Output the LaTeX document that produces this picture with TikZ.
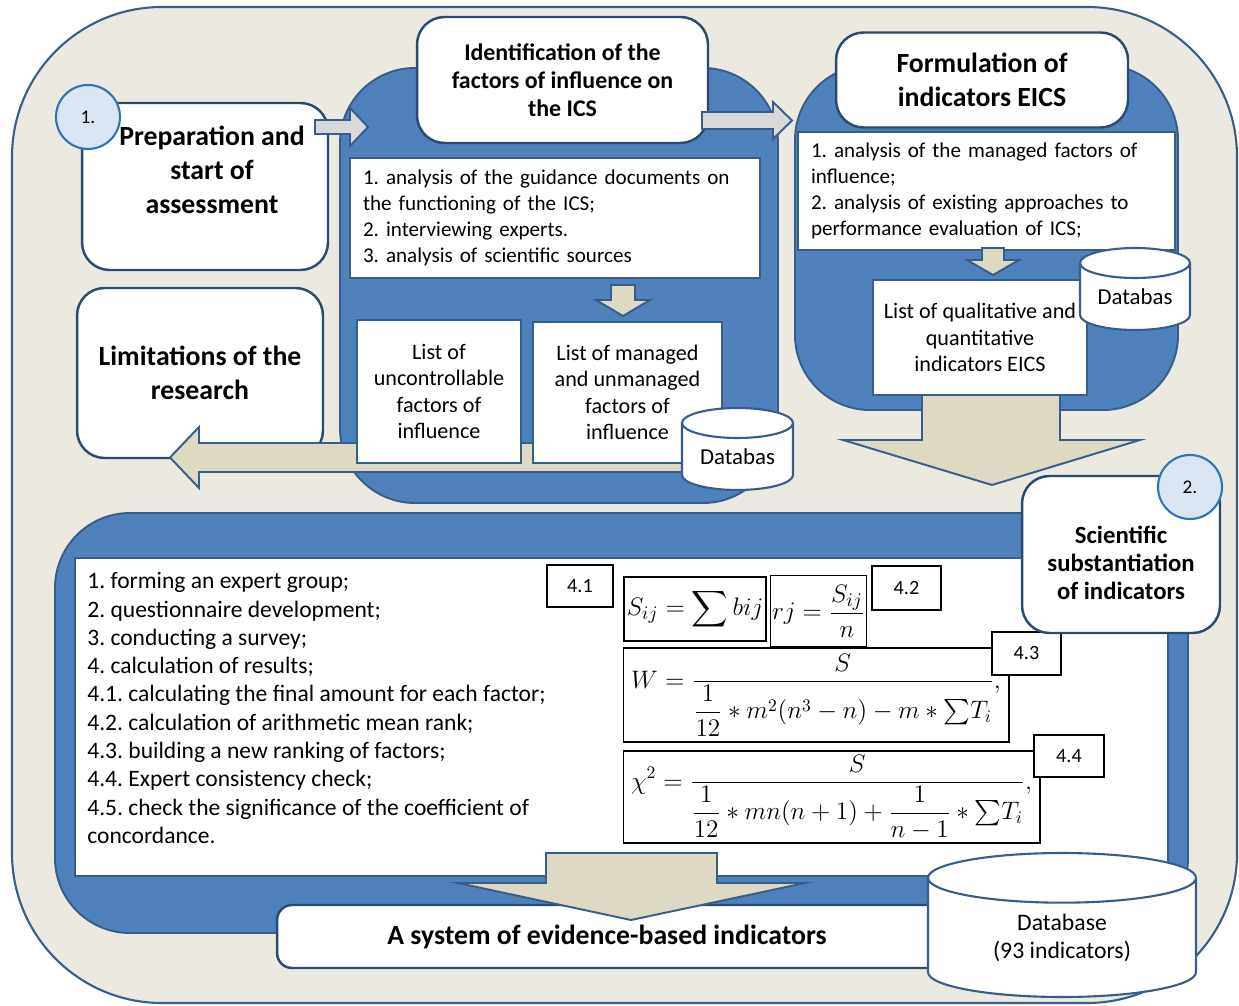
\documentclass[tikz,border=0pt]{standalone}
\usepackage{fontspec}
\usepackage{amsmath}
\setmainfont{Carlito}
\frenchspacing
\usetikzlibrary{shapes.geometric}

\definecolor{bgbeige}{HTML}{ECEAE0}
\definecolor{panblue}{HTML}{4F81BD}
\definecolor{panedge}{HTML}{385D8A}
\definecolor{boxedge}{HTML}{2B4A6F}
\definecolor{arrbeige}{HTML}{DDD9C3}
\definecolor{arrgray}{HTML}{D9D9D9}
\definecolor{circfill}{HTML}{DCE6F2}
\definecolor{circedge}{HTML}{2E75B6}

\tikzset{
  bgframe/.style={fill=bgbeige, draw=panedge, line width=1.2pt, rounded corners=3cm},
  panel/.style={fill=panblue, draw=panedge, line width=1.1pt, rounded corners=1.5cm},
  titlebox/.style={draw=boxedge, fill=white, line width=1.4pt, rounded corners=0.55cm, inner sep=0pt},
  titletext/.style={align=center, inner sep=0pt, font=\bfseries\fontsize{15.8}{19.3}\selectfont},
  listbox/.style={draw=panedge, fill=white, line width=1.2pt, inner sep=0pt},
  listtext/.style={align=left, font=\fontsize{12}{14.7}\selectfont},
  smalltext/.style={align=center, font=\fontsize{12.6}{15}\selectfont},
  dbcyl/.style={cylinder, shape border rotate=90, aspect=0.4, draw=panedge, fill=white,
    line width=1.2pt, inner sep=0pt, anchor=shape center, font=\fontsize{13}{15}\selectfont},
  numcirc/.style={circle, fill=circfill, draw=circedge, line width=1.2pt, minimum size=1.28cm,
    inner sep=0pt, font=\fontsize{11}{13}\selectfont},
  formbox/.style={draw=black, line width=0.6pt, fill=white, inner sep=1pt},
  numbox/.style={draw=black, line width=1.4pt, fill=white, inner sep=0pt, font=\fontsize{11.5}{13}\selectfont},
  beigearrow/.style={fill=arrbeige, draw=panedge, line width=1.1pt},
  grayarrow/.style={fill=arrgray, draw=panedge, line width=1.1pt}
}

\begin{document}
\begin{tikzpicture}[x=0.02cm,y=-0.02cm]
\useasboundingbox (0,0) rectangle (1239,1006);

\draw[bgframe] (12,7) rectangle (1237,1003);

% blue panels
\draw[panel] (340,68) rectangle (778,503);
\draw[panel] (795,65) rectangle (1178,410);
\draw[panel] (55,513) rectangle (1188,933);

% stage 1
\node[titlebox, minimum width=4.92cm, minimum height=3.34cm] (prep) at (205,186.5) {};
\node[numcirc] (c1) at (88,117) {1.};
\node[titletext] (preptxt) at (212,170) {Preparation and\\start of\\assessment};
\node[titlebox, minimum width=4.92cm, minimum height=3.4cm, titletext] (limit) at (200,373)
  {Limitations of the\\research};

\node[titlebox, minimum width=5.82cm, minimum height=2.52cm, titletext,
  font=\bfseries\fontsize{13.6}{15.9}\selectfont] (ident) at (562.5,80)
  {Identification of the\\factors of influence on\\the ICS};
\node[titlebox, minimum width=5.84cm, minimum height=1.9cm, titletext] (form) at (982,80)
  {Formulation of\\indicators EICS};

\node[listbox, minimum width=8.2cm, minimum height=2.4cm, listtext, inner xsep=0.26cm,
  text width=7.68cm] (la) at (555,218)
  {1. analysis of the guidance documents on\\the functioning of the ICS;\\2. interviewing experts.\\3. analysis of scientific sources};
\node[listbox, minimum width=7.54cm, minimum height=2.36cm, listtext, inner xsep=0.26cm,
  text width=7.02cm] (lb) at (986.5,191)
  {1. analysis of the managed factors of\\influence;\\2. analysis of existing approaches to\\performance evaluation of ICS;};

% arrows between the stages
\draw[grayarrow] (315,120) -- (350,120) -- (350,108) -- (368,127) -- (350,146) -- (350,134) -- (315,134) -- cycle;
\draw[grayarrow] (702,112) -- (773,112) -- (773,102) -- (792,120.5) -- (773,139) -- (773,129) -- (702,129) -- cycle;
\draw[beigearrow] (611,285) -- (635,285) -- (635,300) -- (650,300) -- (623,316) -- (596,300) -- (611,300) -- cycle;
\draw[beigearrow] (982,248) -- (1004,248) -- (1004,260) -- (1019,260) -- (993,275) -- (967,260) -- (982,260) -- cycle;
\draw[beigearrow] (700,443) -- (199,443) -- (199,427) -- (170,457.5) -- (199,488) -- (199,472) -- (700,472) -- cycle;

\node[listbox, minimum width=3.28cm, minimum height=2.86cm, smalltext] (unc) at (439,391.5)
  {List of\\uncontrollable\\factors of\\influence};
\node[listbox, minimum width=3.78cm, minimum height=2.82cm, smalltext] (man) at (627.5,392.5)
  {List of managed\\and unmanaged\\factors of\\influence};
\node[dbcyl, minimum width=2.22cm, minimum height=1.64cm] (db1) at (737.5,449) {Databas};

\draw[beigearrow] (922,380) -- (1060,380) -- (1060,440) -- (1140,440) -- (992,485) -- (843,440) -- (922,440) -- cycle;
\node[listbox, minimum width=4.28cm, minimum height=2.3cm, smalltext] (qual) at (980,337.5)
  {List of qualitative and\\quantitative\\indicators EICS};
\node[dbcyl, minimum width=2.2cm, minimum height=1.64cm] (db2) at (1135,289) {Databas};

% stage 2
\node[listbox, minimum width=21.86cm, minimum height=6.36cm] (lc) at (621.5,717) {};
\node[anchor=west, inner sep=0pt, align=left, font=\fontsize{13.4}{16.1}\selectfont] (steps) at (87,708)
  {1. forming an expert group;\\2. questionnaire development;\\3. conducting a survey;\\4. calculation of results;\\4.1. calculating the final amount for each factor;\\4.2. calculation of arithmetic mean rank;\\4.3. building a new ranking of factors;\\4.4. Expert consistency check;\\4.5. check the significance of the coefficient of\\concordance.};

\node[numbox, minimum width=1.32cm, minimum height=0.84cm] (n41) at (580,586) {4.1};
\node[formbox, minimum width=2.84cm, minimum height=1.28cm, font=\fontsize{15.5}{18}\selectfont] (fs) at (695,609)
  {$\displaystyle S_{ij}=\sum bij$};
\node[formbox, minimum width=1.78cm, minimum height=1.42cm, font=\fontsize{15}{18}\selectfont] (fr) at (818.5,611)
  {$\displaystyle rj=\frac{S_{ij}}{n}$};
\node[numbox, minimum width=1.38cm, minimum height=0.88cm] (n42) at (906.5,588) {4.2};
\node[formbox, minimum width=7.72cm, minimum height=1.88cm, font=\fontsize{14.5}{17}\selectfont] (fw) at (816,695)
  {$\displaystyle W=\frac{S}{\dfrac{1}{12}\ast m^2(n^3-n)-m\ast{\textstyle\sum} T_i},$};
\node[numbox, minimum width=1.38cm, minimum height=0.86cm] (n43) at (1026.5,653.5) {4.3};
\node[formbox, minimum width=8.34cm, minimum height=1.84cm, font=\fontsize{14.5}{17}\selectfont] (fx) at (831.5,797)
  {$\displaystyle \chi^2=\frac{S}{\dfrac{1}{12}\ast mn(n+1)+\dfrac{1}{n-1}\ast{\textstyle\sum} T_i},$};
\node[numbox, minimum width=1.4cm, minimum height=0.84cm] (n44) at (1069,756) {4.4};

\node[titlebox, minimum width=3.96cm, minimum height=3.14cm] (sci) at (1121,554.5) {};
\node[titletext, font=\bfseries\fontsize{14.1}{15.9}\selectfont] (scitxt) at (1121,563)
  {Scientific\\substantiation\\of indicators};
\node[numcirc] (c2) at (1190,487) {2.};

% result
\node[titlebox, rounded corners=0.3cm, minimum width=14.26cm, minimum height=1.26cm] (sys) at (633.5,936.5) {};
\node[titletext] (systxt) at (607,937) {A system of evidence-based indicators};
\node[dbcyl, aspect=0.36, minimum width=5.36cm, minimum height=2.88cm, align=center,
  font=\fontsize{13.5}{16.4}\selectfont] (db3) at (1062,925)
  {Database\\(93 indicators)};
\draw[beigearrow] (546,853) -- (717,853) -- (717,883) -- (805,883) -- (631,920) -- (458,883) -- (546,883) -- cycle;

\end{tikzpicture}
\end{document}
